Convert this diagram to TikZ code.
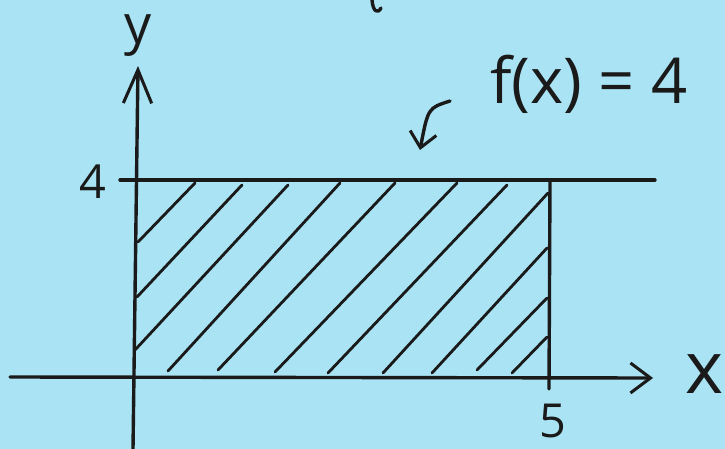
\documentclass[tikz,border=0pt]{standalone}
\usepackage{fontspec}
\setmainfont{Open Sans}
\usetikzlibrary{arrows.meta, positioning}
\definecolor{paperblue}{HTML}{AAE4F4}
\definecolor{inkdark}{HTML}{1A1A1A}
\tikzset{
  ink/.style={draw=inkdark, line width=2.9pt, line cap=round, line join=round},
  hatch/.style={draw=inkdark, line width=2.4pt, line cap=round},
  arr/.style={ink, -{Straight Barb[length=#1, width=0.9cm, line width=2.6pt]}},
  arr/.default=0.6cm,
  hand/.style={text=inkdark, inner sep=0pt, font=\fontsize{#1}{#1}\selectfont},
  hand/.default=48pt,
}

\begin{document}
\begin{tikzpicture}[x=0.03cm, y=-0.03cm]
  \useasboundingbox (0,0) rectangle (725,449);
  \fill[paperblue] (0,0) rectangle (725,449);

  % axes
  \coordinate (ybot) at (133,449);
  \coordinate (ytop) at (138,66);
  \coordinate (xleft) at (10,377);
  \coordinate (xright) at (653,378);
  \draw[ink, -{Straight Barb[length=1cm, width=0.85cm, line width=2.6pt]}] (ybot) -- (ytop);
  \draw[arr] (xleft) -- (xright);

  % f(x)=4 and x=5
  \coordinate (topleft) at (120,180);
  \coordinate (topright) at (655,180);
  \coordinate (fivetop) at (550,180);
  \coordinate (fivebot) at (549,389);
  \draw[ink] (topleft) -- (topright);
  \draw[ink] (fivetop) -- (fivebot);

  % shading
  \draw[hatch] (138,242) -- (195,183);
  \draw[hatch] (137,297) -- (242,185);
  \draw[hatch] (135,350) -- (288,185);
  \draw[hatch] (168,371) -- (340,183);
  \draw[hatch] (218,370) -- (395,183);
  \draw[hatch] (275,372) -- (457,183);
  \draw[hatch] (328,373) -- (507,185);
  \draw[hatch] (383,373) -- (548,193);
  \draw[hatch] (432,373) -- (547,248);
  \draw[hatch] (477,370) -- (547,298);
  \draw[hatch] (512,373) -- (547,337);

  % labels
  \node[hand=46pt] (ylabel) at (138,36) {y};
  \node[hand=62pt] (xlabel) at (705,374) {x};
  \node[hand=40pt] (four) at (93,182) {4};
  \node[hand=40pt] (five) at (553,421) {5};
  \node[hand=54pt] (flabel) at (589,84) {f(x) = 4};

  % pointer to the line
  \coordinate (tip) at (420,150);
  \draw[ink, -{Straight Barb[length=0.45cm, width=0.8cm, line width=2.6pt]}] (450,101) .. controls (428,108) .. (tip);

  % cut-off stroke at the top edge
  \draw[ink] (372,0) .. controls (373,12) and (378,14) .. (381,8);
\end{tikzpicture}
\end{document}
